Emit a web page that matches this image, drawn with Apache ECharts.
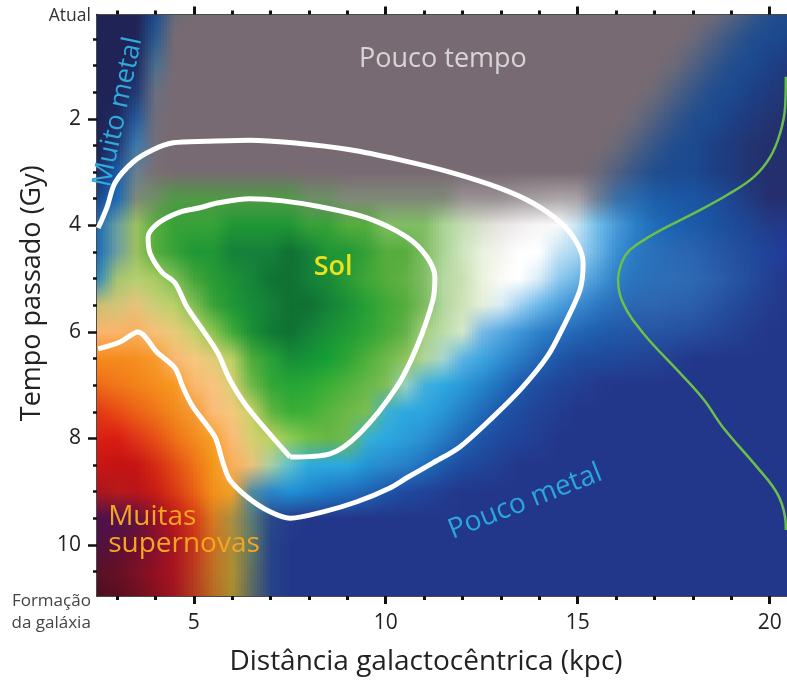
<!DOCTYPE html>
<html><head><meta charset="utf-8"><style>html,body{margin:0;padding:0;background:#fff}#c{width:787px;height:680px}</style>
<script src="https://cdn.jsdelivr.net/npm/echarts@6/dist/echarts.min.js"></script></head>
<body><div id="c"></div>
<script>
const xMajorTicks=[5,10,15,20];
const xMinorTicks=[3,4,6,7,8,9,11,12,13,14,16,17,18,19];
const yMajorTicks=[2,4,6,8,10];
const yMinorTicks=[0.5,1,1.5,2.5,3,3.5,4.5,5,5.5,6.5,7,7.5,8.5,9,9.5,10.5];
const xNodes=[2.48,3,3.5,4,4.5,5,5.5,6,6.5,7,7.5,8,8.5,9,9.5,10,10.5,11,11.5,12,12.5,13,13.5,14,14.5,15,15.5,16,16.5,17,17.5,18,18.5,19,19.5,20,20.5];
const yNodes=[0.04,0.5,1,1.5,2,2.5,3,3.5,4,4.5,5,5.5,6,6.5,7,7.5,8,8.5,9,9.5,10,10.5,11];
const colorNames={A:'1f2356',B:'23378a',C:'1c4a90',D:'1a6ab5',E:'2a9ad8',F:'6fc0ea',H:'c4e3f3',W:'ffffff',X:'f4f5ef',G:'786a72',N:'1d3a7c',R:'242f6e',P:'5f6478',Q:'3b5888',I:'9a9295',K:'b5aeb0',V:'7f8a78',U:'6d8f64',S:'4f9a44',M:'4a6f90',Y:'6a9ea0',a:'0f7032',l:'15803a',c:'1f9735',d:'36a137',e:'55ad3c',f:'80bd64',h:'a9d494',i:'cfe5c0',j:'e8f2de',k:'9cc060'};
const colorRows=[
"A*3 1c4a90 6a6a78 G*27 6e6a78 566380 3a5888 234e8c C",
"A*3 2a5a8f G*27 6c6a78 526080 365688 214d8e C 1c4488",
"A*2 1f2a60 4a6f90 G*26 6c6a78 526080 365688 214d8e C 1d4085 1f3a7e",
"A*2 1f3a75 6a6f80 G*25 6c6a78 526080 365688 214d8e C 1d4085 1f3a7e 223470",
"A 1f2a5e 245a9a 706e7a G*24 6c6a78 526080 365688 214d8e C 1d4085 1f3a7e 223470 R",
"A 1f3670 3a7ab0 736e78 G*23 6c6a78 526080 365688 214d8e C 1d4085 1f3a7e 223470 R R",
"1f2a60 1a5aa5 6a7f90 786f72 G*22 6c6a78 526080 365688 214d8e C 1c4a92 1d4085 1f3a7e 223470 R R",
"C D V U S*7 U*2 V*6 I*3 a39b9e a8a1a4 aea7aa a8a2a6 6f7f95 3a6fa8 2a6aae 1d5ea8 1b58a5 1b55a3 1c4f9c 1f4590 223a80 252f70 R",
"D Y k e d*3 c*4 d*2 e*2 f*3 h c4ddb4 d7dfcc e8e5e3 f0eeee f7f6f6 fafafa H F 4a9ad8 2a80c8 1f6cb8 1b62b0 1b5aa8 1b54a2 1c4c9a 1f4592 223b86 B",
"D Y k e d c*2 l*3 a l c*2 d e*2 f h i j X W*2 H a8d5f0 6db5e6 3a8fd2 2a7ac2 2a6fba 2a68b4 2a64b0 265aa8 2452a0 204a9b 1f429a 22399a",
"2a86c0 a5c46e b5cf70 a8cb62 7fbd55 45a53a 2a9a35 1e9135 16843a 0f7534 a l 1a8a36 2a9a35 3fa637 55ad3c 62b148 7fbd64 b6d8a2 c8e0b0 eaf2dd fbfbf5 W d8ebf8 8fc9ee 6ab4e6 4a9ad8 2e80c8 2a73bd 2c6eb8 2e6cb6 2d68b3 2b60ad 2756a5 234c9d 233f93 B",
"c8c070 d0c578 e8c27d c9cf77 b9d068 7fbd55 3aa337 1e9735 178a38 l a a l 1a8f36 26a035 3fa836 55ad3c 7eb95f b2d79e cfe2b8 e6efd9 d9ecf6 9ed0ef 6ab8ea 4aa0dc 3a8ad0 2d78c2 2a6cb8 2c66b2 2e66b0 2d62ae 2b5fab 2856a4 254c9c 234494 233c8e B",
"fbb46e fbb569 f8b060 f7c07a e7cb78 c5d16a 8cc450 3faa38 1a8f35 107a35 a l 1a8f36 1f9a35 2ea335 45ab38 62b148 a3cf7f bcdca8 d4e8c8 7ab9e6 55a8e2 3d96d8 2e80c8 2872bf 2366b5 1f5dae 2158a8 2455a5 2655a4 2552a2 254e9e 244898 234292 233c8e B*2",
"f58a1e f58a1d f68e20 f69a2a f8b872 f7c77f e0cd78 bcd165 4eab3a 2aa236 178e38 159436 14a036 2ea535 4cb03a 6db84a 8fc35a b3d49a a5d5d0 5ab3e5 3da5e0 2f8fd2 2878c2 2266b5 1e56a8 1f4c9e 1f4a9b 20489a 224598 234293 233e90 B*6",
"ee6a18 f0771a f28119 f58d1c f7981f f9b76d fac27f d8cf72 6eb848 35a736 25a536 2aa836 3aae36 50b23c 66b748 7fbd55 9ad2c0 45b0dd 2ca8e0 2a98d8 2585c9 2070bd 1e5aac 1f4c9f 214498 223f92 23398d B*10",
"df3915 e94a14 ec6116 ef7419 f28a1e f59a30 fbbb7a f4c87d c9d168 64b442 3aae36 3fb037 58b53e 6db848 7abf50 3fb0d0 2ca8e0 2ca5df 2995d5 2480c6 1f6bb9 1e55a8 1f4a9d 214396 223d90 B*12",
"dc1f13 d91d12 e0351a e64f15 ef7018 f38a1d f7a027 fbbb7a d5cf70 bdd05f 8fca55 70bf45 68b545 70ba50 3ab0d0 2ba8e2 2a9ed9 2a90d2 257cc4 1f66b5 1e54a7 1f4a9d 20439a 223d92 B*13",
"c81613 c41312 c51413 d52a14 e24c14 ef7018 f39719 f9ae5a edc078 a9cfa2 5fc0d0 2ea9de 2ca8e0 2ba7e0 2295d5 2a88cc 2680c6 2070bd 1d5aab 1e4c9f 204598 223e92 B*15",
"a8151f b51a18 b9141b c81c14 d93814 e86015 f29019 f0a028 4f8aa0 2a84c8 1f90d5 1f85ce 1d78c6 1f70bd 1e65b4 1d55a8 1f4a9e 204399 223d92 B*18",
"4e1248 4f1250 5e1240 8d1028 bb1919 d43a14 d87a20 a98f40 5c7a78 284a8a 233c8d B*26",
"4e1240 5a1038 6b1030 841030 a91522 c4341a cc6d22 aa8c38 5f7a62 284488 B*27",
"5a1028 651025 7b1026 921020 a8151f b93c1e bd6f24 b09030 5f6f60 284488 B*27",
"4a0f1f 560f20 6a1020 841020 a01520 b03a1e b56a24 a88c30 5a6a60 284488 B*27"
];
const outerContour=[[2.51,4.05],[2.74,3.66],[2.95,3.20],[3.42,2.81],[3.94,2.58],[4.46,2.45],[5.34,2.42],[6.46,2.40],[7.58,2.45],[9.07,2.58],[10.37,2.77],[11.67,3.00],[12.97,3.30],[13.83,3.58],[14.54,3.94],[14.98,4.33],[15.14,4.71],[15.06,5.21],[14.62,5.91],[14.20,6.47],[13.50,7.09],[12.79,7.60],[11.93,8.16],[11.23,8.46],[10.55,8.74],[10.11,8.93],[9.25,9.19],[8.37,9.38],[7.51,9.50],[6.99,9.38],[6.39,9.10],[5.94,8.78],[5.74,8.41],[5.55,7.97],[4.98,7.41],[4.72,7.04],[4.51,6.68],[4.04,6.38],[3.55,6.00],[3.08,6.19],[2.51,6.32]];
const innerContour=[[7.51,8.35],[8.55,8.29],[9.33,7.90],[10.29,7.03],[10.81,6.28],[11.23,5.40],[11.28,4.97],[11.07,4.59],[10.55,4.22],[9.51,3.86],[8.29,3.65],[7.32,3.54],[6.46,3.50],[5.61,3.58],[5.16,3.67],[4.64,3.75],[4.07,3.96],[3.81,4.22],[3.86,4.52],[4.17,4.88],[4.51,5.08],[4.82,5.53],[5.24,5.97],[5.63,6.40],[5.94,6.90],[6.39,7.41],[7.51,8.35]];
const greenCurve=[[20.42,1.21],[20.40,1.78],[20.27,2.27],[20.01,2.72],[19.59,3.09],[18.89,3.43],[18.03,3.77],[17.32,4.03],[16.80,4.24],[16.36,4.46],[16.15,4.69],[16.05,5.03],[16.18,5.46],[16.70,6.02],[17.66,6.77],[18.29,7.28],[18.78,7.79],[19.67,8.54],[20.19,9.03],[20.40,9.48],[20.42,9.72]];
// x, y, text
const plotNotes=[[11.49,0.88,"Pouco tempo"],[3.03,1.87,"Muito metal"],[8.63,4.78,"Sol"],[2.77,9.48,"Muitas"],[2.77,9.98,"supernovas"],[13.63,9.19,"Pouco metal"],[2.32,0.07,"Atual"],[2.32,11.05,"Formação"],[2.32,11.47,"da galáxia"]];
const noteStyles={
 "Pouco tempo":{fill:'#d9d5d7',size:27,rot:0,align:'center'},
 "Muito metal":{fill:'#2fa9dd',size:27,rot:78,align:'center'},
 "Sol":{fill:'#ece21e',size:27,rot:0,align:'center',weight:'600'},
 "Muitas":{fill:'#f4a522',size:28,rot:0,align:'left'},
 "supernovas":{fill:'#f4a522',size:28,rot:0,align:'left'},
 "Pouco metal":{fill:'#2aa6dd',size:28,rot:21.5,align:'center'},
 "Atual":{fill:'#333',size:17.5,rot:0,align:'right'},
 "Formação":{fill:'#444',size:17,rot:0,align:'right'},
 "da galáxia":{fill:'#444',size:17,rot:0,align:'right'}
};
const FONT='"Open Sans", Lato, sans-serif';
function expandRow(s){const out=[];s.split(' ').forEach(t=>{const p=t.split('*');const n=p[1]?+p[1]:1;const h=colorNames[p[0]]||p[0];const c=[parseInt(h.slice(0,2),16),parseInt(h.slice(2,4),16),parseInt(h.slice(4,6),16)];for(let i=0;i<n;i++)out.push(c);});while(out.length<xNodes.length)out.push(out[out.length-1]);return out;}
const grid=colorRows.map(expandRow);
const cells=[];for(let j=0;j<yNodes.length-1;j++)for(let i=0;i<xNodes.length-1;i++)cells.push([xNodes[i],yNodes[j],i,j]);
const mix=(a,b,t)=>`rgb(${Math.round(a[0]+(b[0]-a[0])*t)},${Math.round(a[1]+(b[1]-a[1])*t)},${Math.round(a[2]+(b[2]-a[2])*t)})`;
const mixArr=(a,b,t)=>[a[0]+(b[0]-a[0])*t,a[1]+(b[1]-a[1])*t,a[2]+(b[2]-a[2])*t];
function renderCell(p,api){
 const i=api.value(2),j=api.value(3);
 const p0=api.coord([xNodes[i],yNodes[j]]),p1=api.coord([xNodes[i+1],yNodes[j+1]]);
 const x0=Math.round(p0[0]),x1=Math.round(p1[0]),y0=Math.round(p0[1]),y1=Math.round(p1[1]);
 const kids=[];const step=3;
 for(let x=x0;x<x1;x+=step){
  const w=Math.min(step,x1-x);const t=(x+w/2-p0[0])/(p1[0]-p0[0]);
  const top=mixArr(grid[j][i],grid[j][i+1],t),bot=mixArr(grid[j+1][i],grid[j+1][i+1],t);
  kids.push({type:'rect',silent:true,shape:{x:x,y:y0,width:w,height:y1-y0},style:{fill:{type:'linear',x:0,y:0,x2:0,y2:1,colorStops:[{offset:0,color:mix(top,top,0)},{offset:1,color:mix(bot,bot,0)}]}}});
 }
 return {type:'group',children:kids};
}
function renderNote(p,api){
 const t=plotNotes[p.dataIndex];const s=noteStyles[t[2]];const c=api.coord([t[0],t[1]]);
 return {type:'text',x:c[0],y:c[1],rotation:s.rot*Math.PI/180,silent:true,style:{text:t[2],fill:s.fill,font:`${s.weight||'normal'} ${s.size}px ${FONT}`,textAlign:s.align,textVerticalAlign:'middle'}};
}
const xBase={type:'value',min:2.48,max:20.45,splitLine:{show:false}};
const yBase={type:'value',min:0.04,max:10.96,inverse:true,splitLine:{show:false}};
const lineS={lineStyle:{color:'#111',width:1.5}};
const chart=echarts.init(document.getElementById('c'),null,{renderer:'canvas'});
chart.setOption({
 animation:false,backgroundColor:'#fff',
 grid:{left:97,top:14.5,width:690,height:581.5,containLabel:false,outerBoundsMode:'none'},
 xAxis:[
  Object.assign({},xBase,{position:'bottom',name:'Distância galactocêntrica (kpc)',nameLocation:'middle',nameGap:52,nameTextStyle:{fontFamily:FONT,fontSize:28,color:'#222',padding:[0,32,0,0]},
   axisLine:Object.assign({show:true,onZero:false},lineS),axisTick:{show:true,customValues:xMajorTicks,length:8,lineStyle:{color:'#111',width:3}},axisLabel:{show:true,customValues:xMajorTicks,margin:17,fontFamily:FONT,fontSize:21,color:'#222',showMinLabel:true,showMaxLabel:true}}),
  Object.assign({},xBase,{position:'bottom',axisLine:{show:false,onZero:false},axisTick:{show:true,customValues:xMinorTicks,length:4,lineStyle:{color:'#111',width:3}},axisLabel:{show:false}}),
  Object.assign({},xBase,{position:'top',axisLine:Object.assign({show:true,onZero:false},lineS),axisTick:{show:true,customValues:xMajorTicks,length:8,lineStyle:{color:'#111',width:3}},axisLabel:{show:false}}),
  Object.assign({},xBase,{position:'top',axisLine:{show:false,onZero:false},axisTick:{show:true,customValues:xMinorTicks,length:4,lineStyle:{color:'#111',width:3}},axisLabel:{show:false}})
 ],
 yAxis:[
  Object.assign({},yBase,{position:'left',name:'Tempo passado (Gy)',nameLocation:'middle',nameGap:47,nameRotate:90,nameTextStyle:{fontFamily:FONT,fontSize:27,color:'#222',padding:[0,0,0,24]},
   axisLine:Object.assign({show:true,onZero:false},lineS),axisTick:{show:true,customValues:yMajorTicks,length:9,lineStyle:{color:'#111',width:2.5}},axisLabel:{show:true,customValues:yMajorTicks,margin:16,fontFamily:FONT,fontSize:21,color:'#222'}}),
  Object.assign({},yBase,{position:'left',axisLine:{show:false,onZero:false},axisTick:{show:true,customValues:yMinorTicks,length:4,lineStyle:{color:'#111',width:2.5}},axisLabel:{show:false}})
 ],
 series:[
  {type:'custom',name:'campo',data:cells,renderItem:renderCell,clip:true,silent:true,z:1,encode:{x:0,y:1}},
  {type:'line',name:'contorno externo',data:outerContour,smooth:0.3,showSymbol:false,silent:true,clip:true,z:3,lineStyle:{color:'#fff',width:5}},
  {type:'line',name:'contorno interno',data:innerContour,smooth:0.3,showSymbol:false,silent:true,clip:true,z:3,lineStyle:{color:'#fff',width:5}},
  {type:'line',name:'curva',data:greenCurve,smooth:0.4,showSymbol:false,silent:true,clip:true,z:3,lineStyle:{color:'#6cc04a',width:2.5}},
  {type:'custom',name:'notas',data:plotNotes.map(n=>[n[0],n[1]]),renderItem:renderNote,clip:false,silent:true,z:5,encode:{x:0,y:1}}
 ]
});
</script></body></html>
